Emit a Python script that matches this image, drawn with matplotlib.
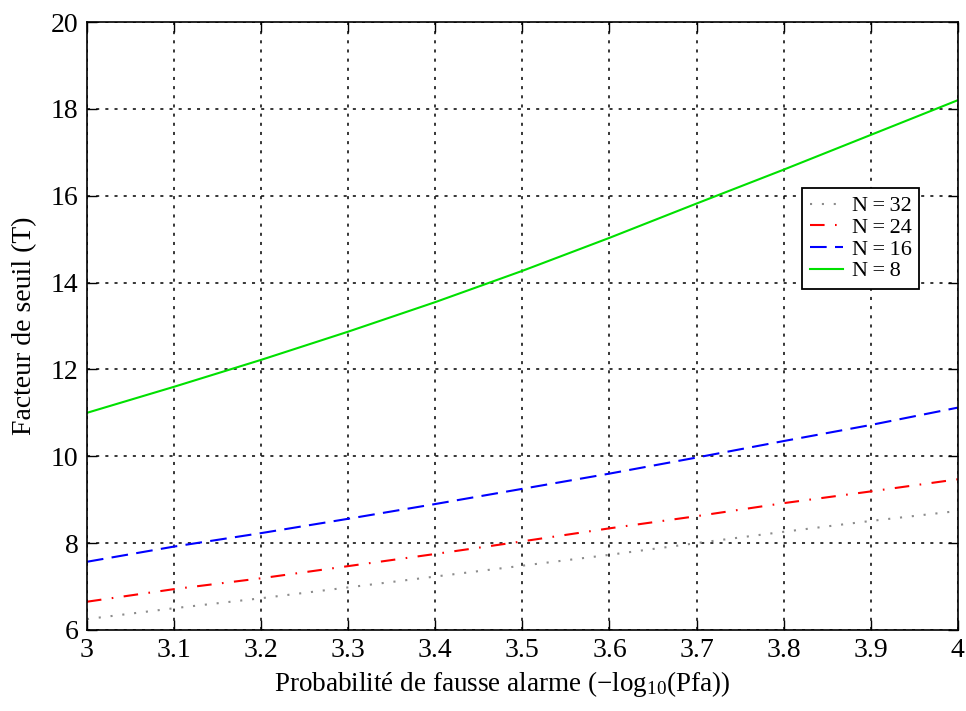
import matplotlib
matplotlib.use("Agg")
import matplotlib.pyplot as plt

plt.rcParams['font.family'] = ['Liberation Serif', 'DejaVu Serif']
plt.rcParams['mathtext.fontset'] = 'custom'
plt.rcParams['mathtext.rm'] = 'Liberation Serif'
plt.rcParams['mathtext.it'] = 'Liberation Serif:italic'

# -log10(Pfa) sample points
pfa_log = [3.0, 3.1, 3.2, 3.3, 3.4, 3.5, 3.6, 3.7, 3.8, 3.9, 4.0]

# Threshold factor T for each reference-window size N
t_n32 = [6.25, 6.50, 6.73, 6.98, 7.23, 7.48, 7.73, 8.00, 8.26, 8.51, 8.74]
t_n24 = [6.65, 6.94, 7.19, 7.47, 7.75, 8.04, 8.34, 8.62, 8.92, 9.19, 9.47]
t_n16 = [7.57, 7.92, 8.23, 8.56, 8.90, 9.25, 9.60, 9.97, 10.35, 10.72, 11.12]
t_n8 = [11.00, 11.60, 12.22, 12.87, 13.55, 14.27, 15.03, 15.82, 16.60, 17.40, 18.20]

labels = ['N\u2009=\u200932', 'N\u2009=\u200924', 'N\u2009=\u200916', 'N\u2009=\u20098']
xticks = [3.0, 3.1, 3.2, 3.3, 3.4, 3.5, 3.6, 3.7, 3.8, 3.9, 4.0]
xtick_labels = ['3', '3.1', '3.2', '3.3', '3.4', '3.5', '3.6', '3.7', '3.8', '3.9', '4']
yticks = [6, 8, 10, 12, 14, 16, 18, 20]

fig = plt.figure(figsize=(9.66, 7.11), dpi=100)
ax = fig.add_axes([0.090, 0.114, 0.9015, 0.855])

lw = 1.5
ax.plot(pfa_log, t_n32, color='#8c8c8c', lw=lw, linestyle=(0, (1, 4.7)), label=labels[0])
ax.plot(pfa_log, t_n24, color='#ff0000', lw=lw, linestyle=(0, (7, 5, 0.8, 5)), label=labels[1])
ax.plot(pfa_log, t_n16, color='#0000ff', lw=lw, linestyle=(0, (8, 4)), label=labels[2])
ax.plot(pfa_log, t_n8, color='#00e000', lw=lw, linestyle='-', label=labels[3])

ax.set_xlim(3, 4)
ax.set_ylim(6, 20)
ax.set_xticks(xticks)
ax.set_xticklabels(xtick_labels)
ax.set_yticks(yticks)

ax.grid(True, color='black', linestyle=(0, (2, 4)), linewidth=1.1)
ax.tick_params(direction='in', top=True, right=True, length=7, width=1,
               labelsize=20, pad=6)
for sp in ax.spines.values():
    sp.set_linewidth(1.2)

ax.set_xlabel(r'Probabilité de fausse alarme ($-$log$_{10}$(Pfa))', fontsize=19.5)
ax.xaxis.set_label_coords(0.477, -0.065)
ax.set_ylabel('Facteur de seuil (T)', fontsize=20, labelpad=10)

leg = ax.legend(loc='upper right', bbox_to_anchor=(0.956, 0.727), borderaxespad=0,
                fontsize=16, fancybox=False, framealpha=1, edgecolor='black',
                handlelength=1.5, handletextpad=0.4, labelspacing=0.05,
                borderpad=0.35)
leg.get_frame().set_linewidth(1.3)

fig.savefig('out.png', dpi=100)
